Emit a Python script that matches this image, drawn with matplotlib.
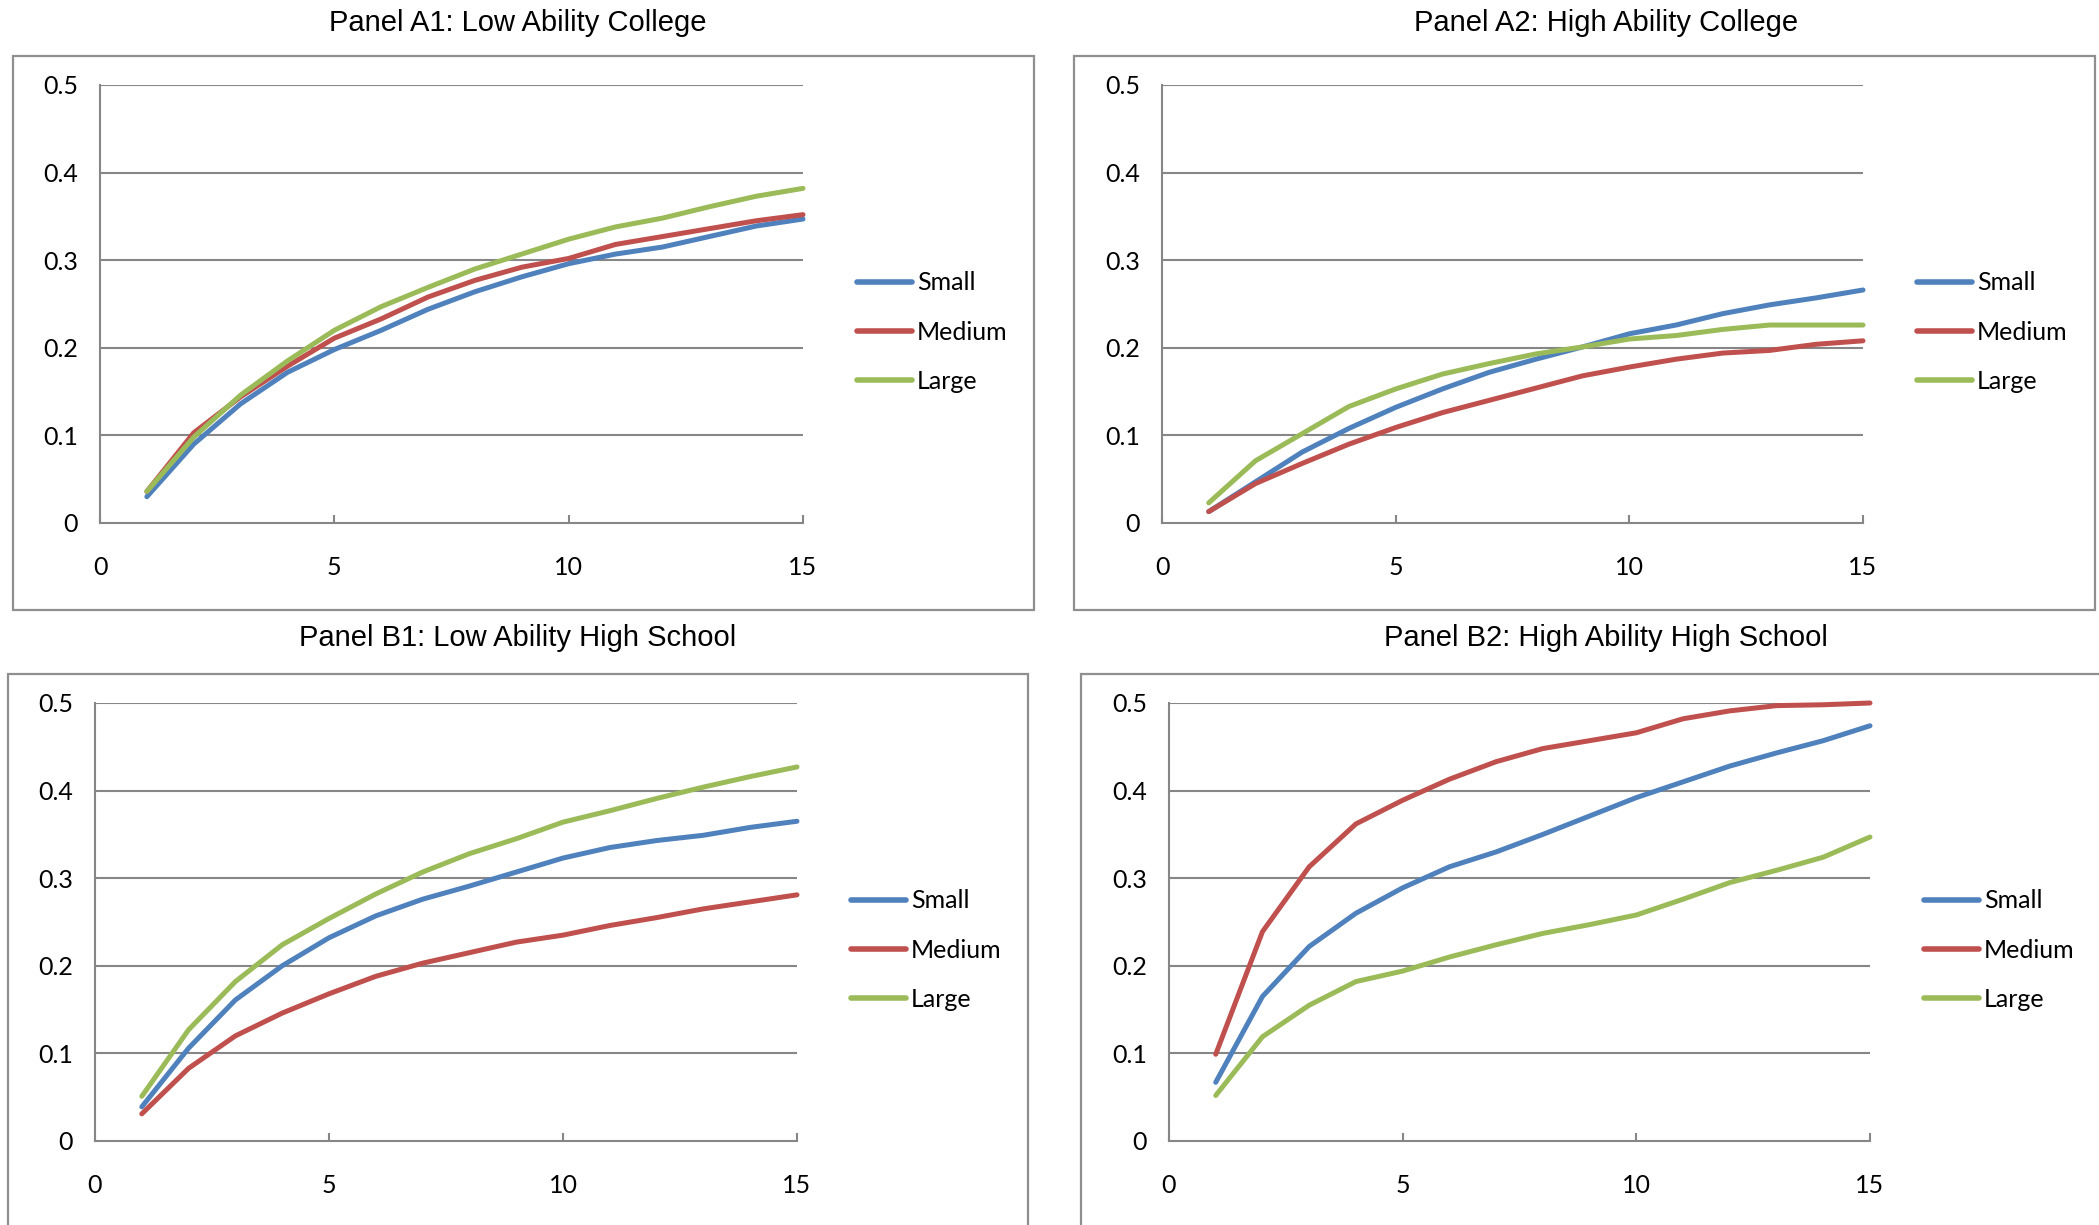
import matplotlib
matplotlib.use("Agg")
import matplotlib.pyplot as plt
from matplotlib.patches import Rectangle

years = list(range(1, 16))
series_names = ["Small", "Medium", "Large"]
series_colors = ["#4F81BD", "#C0504D", "#9BBB59"]

panel_titles = [
    "Panel A1: Low Ability College",
    "Panel A2: High Ability College",
    "Panel B1: Low Ability High School",
    "Panel B2: High Ability High School",
]

a1_small = [0.030, 0.090, 0.136, 0.172, 0.198, 0.220, 0.244, 0.264, 0.281, 0.296, 0.307, 0.315, 0.327, 0.339, 0.347]
a1_medium = [0.036, 0.103, 0.144, 0.179, 0.211, 0.233, 0.258, 0.277, 0.292, 0.302, 0.318, 0.327, 0.336, 0.345, 0.352]
a1_large = [0.036, 0.098, 0.146, 0.185, 0.220, 0.247, 0.269, 0.290, 0.307, 0.324, 0.338, 0.348, 0.361, 0.373, 0.382]

a2_small = [0.013, 0.047, 0.081, 0.108, 0.132, 0.153, 0.172, 0.187, 0.201, 0.216, 0.226, 0.239, 0.249, 0.257, 0.266]
a2_medium = [0.013, 0.045, 0.068, 0.090, 0.109, 0.126, 0.140, 0.154, 0.168, 0.178, 0.187, 0.194, 0.197, 0.204, 0.208]
a2_large = [0.023, 0.071, 0.102, 0.133, 0.153, 0.170, 0.182, 0.193, 0.201, 0.210, 0.214, 0.221, 0.226, 0.226, 0.226]

b1_small = [0.039, 0.106, 0.161, 0.200, 0.232, 0.257, 0.276, 0.291, 0.307, 0.323, 0.335, 0.343, 0.349, 0.358, 0.365]
b1_medium = [0.031, 0.083, 0.120, 0.146, 0.168, 0.188, 0.203, 0.215, 0.227, 0.235, 0.246, 0.255, 0.265, 0.273, 0.281]
b1_large = [0.051, 0.127, 0.182, 0.224, 0.254, 0.282, 0.307, 0.328, 0.345, 0.364, 0.377, 0.391, 0.404, 0.416, 0.427]

b2_small = [0.067, 0.165, 0.222, 0.260, 0.289, 0.313, 0.330, 0.350, 0.371, 0.392, 0.410, 0.428, 0.443, 0.457, 0.474]
b2_medium = [0.099, 0.239, 0.313, 0.362, 0.389, 0.413, 0.433, 0.448, 0.457, 0.466, 0.482, 0.491, 0.497, 0.498, 0.500]
b2_large = [0.052, 0.119, 0.155, 0.182, 0.194, 0.210, 0.224, 0.237, 0.247, 0.258, 0.276, 0.295, 0.309, 0.324, 0.347]

panel_data = [
    [a1_small, a1_medium, a1_large],
    [a2_small, a2_medium, a2_large],
    [b1_small, b1_medium, b1_large],
    [b2_small, b2_medium, b2_large],
]

x_ticks = [0, 5, 10, 15]
y_ticks = [0, 0.1, 0.2, 0.3, 0.4, 0.5]
y_tick_labels = ["0", "0.1", "0.2", "0.3", "0.4", "0.5"]

W, H = 2099, 1225
fig = plt.figure(figsize=(W / 100, H / 100), dpi=100)
fig.patch.set_facecolor("white")

GRID = "#868686"
FRAME = "#8F8F8F"
TICK_FONT = "Lato"
TITLE_FONT = "Liberation Sans"
LABEL_SIZE = 18

# plot areas in pixels: left, top, right, bottom
areas = [
    (100, 85, 803, 523),
    (1162, 85, 1863, 523),
    (95, 703, 797, 1141),
    (1169, 703, 1870, 1141),
]
# outer chart frames in pixels: left, top, right, bottom
frames = [
    (13, 56, 1034, 610),
    (1074, 56, 2095, 610),
    (8, 674, 1028, 1240),
    (1081, 674, 2110, 1240),
]
title_pos = [(518, 23), (1606, 23), (518, 638), (1606, 638)]

for fl, ft, fr, fb in frames:
    fig.patches.append(Rectangle((fl / W, 1 - fb / H), (fr - fl) / W, (fb - ft) / H,
                                 transform=fig.transFigure, fill=False,
                                 edgecolor=FRAME, linewidth=1.6, zorder=0))

for i, (l, t, r, b) in enumerate(areas):
    ax = fig.add_axes([l / W, 1 - b / H, (r - l) / W, (b - t) / H])
    ax.set_xlim(0, 15)
    ax.set_ylim(0, 0.5)
    ax.patch.set_alpha(0)
    for y in y_ticks[1:]:
        ax.axhline(y, color=GRID, linewidth=1.5, zorder=1)
    for name, color, vals in zip(series_names, series_colors, panel_data[i]):
        ax.plot(years, vals, color=color, linewidth=3.6, label=name,
                solid_capstyle="round", solid_joinstyle="round", zorder=3, clip_on=False)
    for side in ("top", "right"):
        ax.spines[side].set_visible(False)
    for side in ("left", "bottom"):
        ax.spines[side].set_color(GRID)
        ax.spines[side].set_linewidth(1.5)
    ax.set_xticks(x_ticks)
    ax.set_xticklabels([str(v) for v in x_ticks])
    ax.set_yticks(y_ticks)
    ax.set_yticklabels(y_tick_labels)
    ax.tick_params(axis="x", direction="in", length=6, width=1.5, color=GRID, pad=24,
                   labelsize=LABEL_SIZE)
    ax.tick_params(axis="y", length=0, pad=16, labelsize=LABEL_SIZE)
    for lab in ax.get_xticklabels() + ax.get_yticklabels():
        lab.set_fontfamily(TICK_FONT)
    leg = ax.legend(loc="center left", bbox_to_anchor=(1.077, 0.436), frameon=False,
                    borderpad=0, borderaxespad=0, handlelength=2.2, handletextpad=0.2,
                    labelspacing=1.05, prop={"family": TICK_FONT, "size": LABEL_SIZE})
    for h in leg.get_lines():
        h.set_linewidth(4.0)
        h.set_solid_capstyle("round")
    tx, ty = title_pos[i]
    fig.text(tx / W, 1 - ty / H, panel_titles[i], ha="center", va="center",
             fontsize=21, family=TITLE_FONT, color="black")

fig.savefig("out.png", dpi=100, facecolor="white")
